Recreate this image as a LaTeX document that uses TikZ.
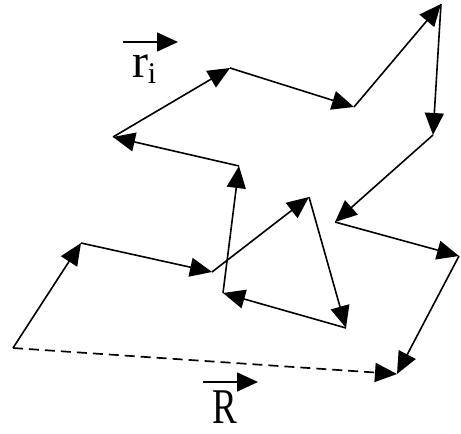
\documentclass[tikz,border=0pt]{standalone}
\usepackage{fontspec}
\setmainfont{Liberation Serif}
\usetikzlibrary{arrows.meta}
\begin{document}
\begin{tikzpicture}[x=1pt,y=-1pt,
  seg/.style={line width=1.6pt,-{Triangle[length=22pt,width=19pt]}},
  resultant/.style={line width=1.7pt,dash pattern=on 10pt off 6pt,-{Triangle[length=22pt,width=19pt]}},
  labarrow/.style={line width=1.6pt,-{Triangle[length=21pt,width=19pt]}},
  lab/.style={inner sep=0pt,anchor=base}]
\useasboundingbox (0,0) rectangle (461,434);
% walk points
\coordinate (S) at (13,348);
\coordinate (P1) at (81,243);
\coordinate (P2) at (212,272);
\coordinate (P3) at (309,197);
\coordinate (P4) at (346,328);
\coordinate (P5) at (223,293);
\coordinate (P6) at (239,166);
\coordinate (P7) at (113,137);
\coordinate (P8) at (230,68);
\coordinate (P9) at (354,107);
\coordinate (P10) at (441,4);
\coordinate (P11) at (433,135);
\coordinate (P12) at (335,222);
\coordinate (P13) at (459,256);
\coordinate (P14) at (397,374);
\draw[seg] (S) -- (P1);
\draw[seg] (P1) -- (P2);
\draw[seg] (P2) -- (P3);
\draw[seg] (P3) -- (P4);
\draw[seg] (P4) -- (P5);
\draw[seg] (P5) -- (P6);
\draw[seg] (P6) -- (P7);
\draw[seg] (P7) -- (P8);
\draw[seg] (P8) -- (P9);
\draw[seg] (P9) -- (P10);
\draw[seg] (P10) -- (P11);
\draw[seg] (P11) -- (P12);
\draw[seg] (P12) -- (P13);
\draw[seg] (P13) -- (P14);
\draw[resultant] (S) -- (P14);
% labels
\coordinate (ra) at (123,42);
\coordinate (rb) at (178,42);
\draw[labarrow] (ra) -- (rb);
\node[lab,font=\fontsize{48}{48}\selectfont] (rlab) at (140.5,77) {r};
\node[lab,font=\fontsize{30}{30}\selectfont] (ilab) at (152,83) {i};
\coordinate (Ra) at (203,382);
\coordinate (Rb) at (258,382);
\draw[labarrow] (Ra) -- (Rb);
\node[lab,font=\fontsize{50}{50}\selectfont] (Rlab) at (225,423) {\scalebox{0.74}[1]{R}};
\end{tikzpicture}
\end{document}
